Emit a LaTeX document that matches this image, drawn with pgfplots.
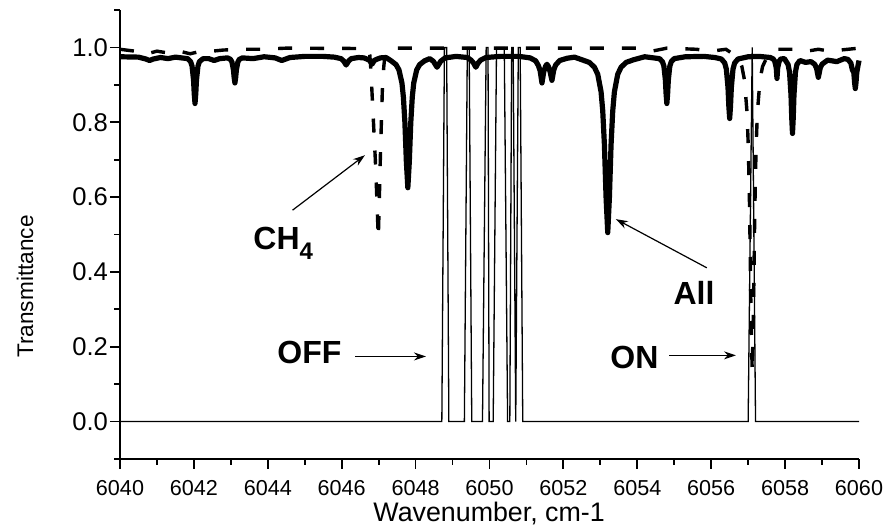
\documentclass[border=0pt]{standalone}
\usepackage{fontspec}
\setmainfont{Liberation Sans}
\usepackage{pgfplots}
\pgfplotsset{compat=1.18}
\usetikzlibrary{arrows.meta}

\begin{document}
\begin{tikzpicture}
\useasboundingbox (-60pt,-34.5pt) rectangle (382pt,229.5pt);
\begin{axis}[
  scale only axis, width=369.5pt, height=224.5pt,
  xmin=6040, xmax=6060, ymin=-0.1, ymax=1.1,
  axis lines*=left,
  axis line style={line width=0.9pt},
  xtick={6040,6042,...,6060},
  minor xtick={6041,6043,...,6059},
  ytick={0,0.2,0.4,0.6,0.8,1.0},
  minor ytick={-0.1,0.1,0.3,0.5,0.7,0.9,1.1},
  tick align=outside,
  major tick length=5pt, minor tick length=3pt,
  every tick/.style={black, line width=0.9pt},
  /pgf/number format/assume math mode=true,
  x tick label style={font=\fontsize{10.8}{12}\selectfont, yshift=-2pt, /pgf/number format/.cd, 1000 sep={}},
  y tick label style={font=\fontsize{12.8}{14}\selectfont, xshift=2.5pt, /pgf/number format/.cd, fixed, fixed zerofill, precision=1},
  clip=false,
]
% filter transmission (OFF and ON)
\addplot[black, line width=0.65pt] coordinates {
(6040,0) (6048.71,0) (6048.78,1) (6048.84,1) (6048.90,0) (6049.32,0) (6049.40,1) (6049.45,1) (6049.52,0)
(6049.81,0) (6049.91,1) (6049.96,1) (6049.99,0) (6050.10,0) (6050.19,1) (6050.40,1) (6050.49,0)
(6050.55,0) (6050.60,1) (6050.64,1) (6050.71,0) (6050.78,1) (6050.83,1) (6050.90,0)
(6057.00,0) (6057.11,1) (6057.20,0) (6060,0)
};
% All
\addplot[black, line width=2.6pt, line join=round] coordinates {
(6040.0,0.975) (6040.5,0.974) (6040.7,0.969) (6040.8,0.965) (6040.9,0.969) (6041.1,0.973) (6041.3,0.970) (6041.5,0.974)
(6041.83,0.970) (6041.91,0.962) (6041.95,0.950) (6041.99,0.913) (6042.01,0.875) (6042.03,0.850) (6042.05,0.875) (6042.07,0.913) (6042.11,0.950) (6042.15,0.962) (6042.25,0.970)
(6042.4,0.970) (6042.55,0.965) (6042.7,0.970)
(6042.91,0.972) (6042.99,0.968) (6043.03,0.961) (6043.07,0.940) (6043.09,0.919) (6043.11,0.905) (6043.13,0.919) (6043.15,0.940) (6043.19,0.961) (6043.23,0.968) (6043.31,0.972)
(6043.6,0.970) (6043.9,0.975)
(6044.2,0.972) (6044.3,0.968) (6044.38,0.965) (6044.46,0.968) (6044.6,0.973)
(6045.0,0.976) (6045.5,0.976)
(6045.8,0.974) (6045.98,0.970) (6046.05,0.964) (6046.12,0.953) (6046.19,0.964) (6046.26,0.970) (6046.45,0.973)
(6046.6,0.972) (6046.7,0.968) (6046.76,0.965) (6046.82,0.955) (6046.88,0.965) (6046.94,0.968) (6047.05,0.972) (6047.2,0.973)
(6047.34,0.964) (6047.47,0.954) (6047.55,0.940) (6047.63,0.905) (6047.67,0.867) (6047.71,0.800) (6047.75,0.695) (6047.79,0.625) (6047.83,0.695) (6047.87,0.800) (6047.91,0.867) (6047.95,0.905) (6048.03,0.940) (6048.11,0.954) (6048.24,0.964)
(6048.38,0.970) (6048.48,0.963) (6048.58,0.947) (6048.68,0.963) (6048.8,0.972)
(6049.1,0.976) (6049.4,0.973)
(6049.5,0.966) (6049.57,0.958) (6049.63,0.947) (6049.69,0.958) (6049.76,0.966) (6049.9,0.973)
(6050.3,0.976) (6050.8,0.976) (6051.1,0.972)
(6051.25,0.964) (6051.32,0.952) (6051.37,0.938) (6051.42,0.905) (6051.47,0.936) (6051.52,0.950) (6051.555,0.955) (6051.6,0.948) (6051.64,0.935) (6051.69,0.912) (6051.74,0.940) (6051.79,0.953) (6051.9,0.965) (6052.1,0.971)
(6052.3,0.974) (6052.5,0.967) (6052.7,0.960) (6052.84,0.947) (6052.93,0.928) (6053.02,0.881) (6053.065,0.830) (6053.11,0.740) (6053.155,0.599) (6053.2,0.505) (6053.245,0.599) (6053.29,0.740) (6053.335,0.830) (6053.38,0.881) (6053.47,0.928) (6053.56,0.947) (6053.7,0.960) (6053.9,0.967)
(6054.2,0.975)
(6054.6,0.970) (6054.68,0.962) (6054.72,0.950) (6054.76,0.913) (6054.78,0.875) (6054.8,0.850) (6054.82,0.875) (6054.84,0.913) (6054.88,0.950) (6054.92,0.962) (6055.0,0.970)
(6055.3,0.975) (6055.8,0.976) (6056.1,0.973)
(6056.275,0.969) (6056.365,0.9585) (6056.41,0.942) (6056.455,0.8925) (6056.4775,0.843) (6056.5,0.810) (6056.5225,0.843) (6056.545,0.8925) (6056.59,0.942) (6056.635,0.9585) (6056.725,0.969)
(6057.0,0.975) (6057.3,0.976)
(6057.6,0.973) (6057.68,0.969) (6057.72,0.963) (6057.76,0.946) (6057.78,0.917) (6057.8,0.946) (6057.84,0.963) (6057.88,0.969) (6057.98,0.970)
(6058.08,0.9545) (6058.12,0.934) (6058.16,0.8725) (6058.18,0.811) (6058.2,0.770) (6058.22,0.811) (6058.24,0.8725) (6058.28,0.934) (6058.32,0.9545) (6058.4,0.965)
(6058.55,0.960) (6058.7,0.962)
(6058.8,0.955) (6058.85,0.945) (6058.9,0.920) (6058.95,0.945) (6059.0,0.955) (6059.15,0.966)
(6059.4,0.962) (6059.6,0.970)
(6059.7,0.968) (6059.78,0.958) (6059.82,0.940) (6059.86,0.9325) (6059.88,0.907) (6059.9,0.890) (6059.92,0.907) (6059.94,0.933) (6059.98,0.955) (6060.0,0.965)
};
% CH4
\addplot[black, line width=1.7pt, dash pattern=on 7pt off 9pt] coordinates {
(6040.0,0.995) (6040.4,0.990) (6040.7,0.982) (6041.0,0.990) (6041.3,0.985) (6041.6,0.990) (6041.9,0.983) (6042.2,0.990) (6042.5,0.990) (6042.8,0.993) (6043.3,0.995) (6043.8,0.995) (6044.5,0.998) (6046.7,0.997)
(6046.76,0.980) (6046.79,0.940) (6046.81,0.900) (6046.86,0.800) (6046.91,0.700) (6046.95,0.600) (6046.99,0.490) (6047.01,0.560) (6047.05,0.720) (6047.10,0.885) (6047.14,0.950) (6047.18,0.985) (6047.3,0.998)
(6054.0,0.998) (6054.4,0.990) (6054.8,0.998) (6055.6,0.995) (6056.0,0.990) (6056.4,0.995)
(6056.71,0.974) (6056.83,0.949) (6056.9,0.913) (6056.97,0.826) (6057.005,0.732) (6057.04,0.565) (6057.075,0.304) (6057.11,0.130) (6057.145,0.304) (6057.18,0.565) (6057.215,0.732) (6057.25,0.826) (6057.32,0.913) (6057.39,0.949) (6057.51,0.974) (6057.7,0.995)
(6058.4,0.995) (6058.6,0.990) (6058.9,0.995) (6059.2,0.990) (6060.0,0.998)
};
% annotations
\draw[-{Stealth[length=6pt,width=4pt]}, line width=0.6pt] (axis cs:6044.67,0.565) -- (axis cs:6046.63,0.712);
\draw[-{Stealth[length=6pt,width=4pt]}, line width=0.6pt] (axis cs:6055.88,0.411) -- (axis cs:6053.42,0.541);
\draw[-{Stealth[length=6pt,width=4pt]}, line width=0.6pt] (axis cs:6046.36,0.174) -- (axis cs:6048.28,0.174);
\draw[-{Stealth[length=6pt,width=4pt]}, line width=0.6pt] (axis cs:6054.87,0.177) -- (axis cs:6056.67,0.177);
\node[anchor=base west, inner sep=0pt, font=\bfseries\fontsize{16}{18}\selectfont] at (axis cs:6043.6,0.461) {CH\raisebox{-5pt}{\fontsize{12}{13}\selectfont 4}};
\node[anchor=west, inner sep=0pt, font=\bfseries\fontsize{16}{18}\selectfont] at (axis cs:6054.97,0.343) {All};
\node[anchor=west, inner sep=0pt, font=\bfseries\fontsize{16}{18}\selectfont] at (axis cs:6044.25,0.184) {OFF};
\node[anchor=west, inner sep=0pt, font=\bfseries\fontsize{16}{18}\selectfont] at (axis cs:6053.26,0.171) {ON};
\node[rotate=90, font=\fontsize{11.3}{13}\selectfont] at (axis cs:6037.43,0.361) {Transmittance};
\node[inner sep=1pt, font=\fontsize{13.4}{15}\selectfont] at (axis cs:6049.99,-0.246) {Wavenumber, cm-1};
\end{axis}
\end{tikzpicture}
\end{document}
